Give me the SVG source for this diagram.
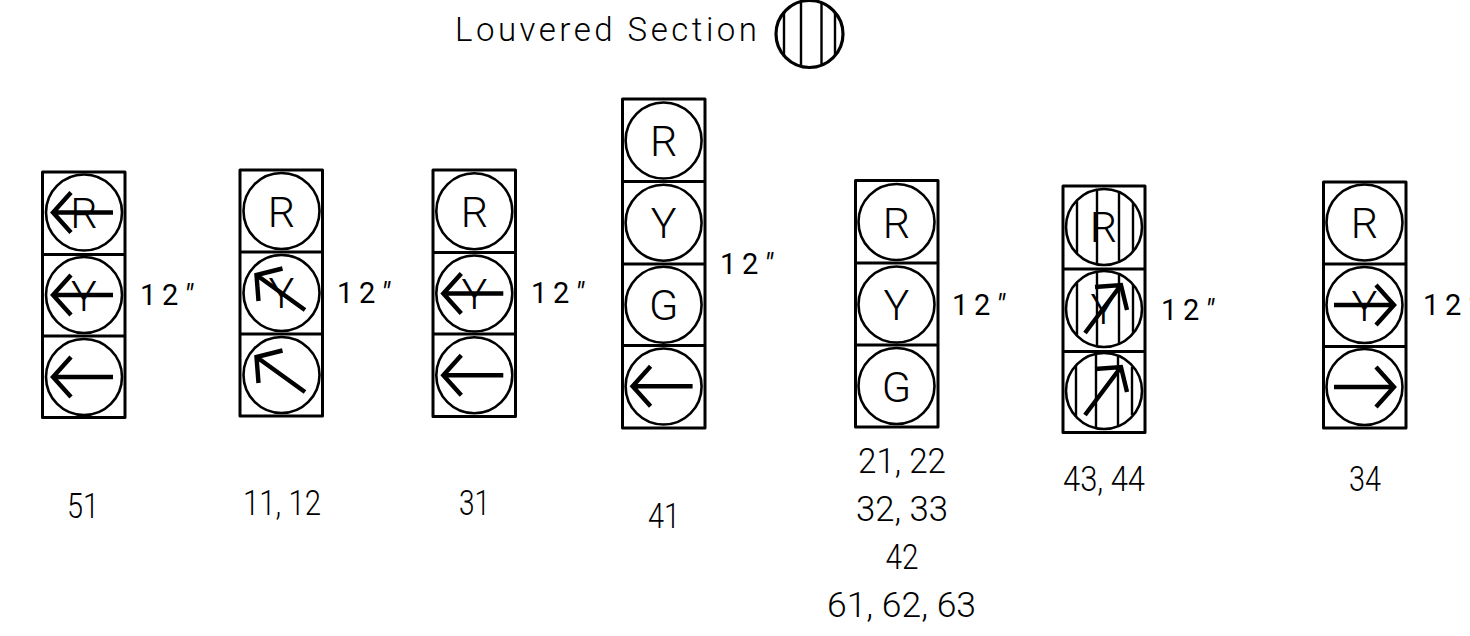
<svg xmlns="http://www.w3.org/2000/svg" xmlns:xlink="http://www.w3.org/1999/xlink" width="1470" height="636" viewBox="0 0 1470 636">
<style>
text{font-family:Roboto,"Liberation Sans",sans-serif;font-weight:300;fill:#000}
.box{fill:none;stroke:#000;stroke-width:3;stroke-linejoin:round}
.div{stroke:#000;stroke-width:3}
.lens{fill:none;stroke:#000;stroke-width:2.6}
.lv{stroke:#000;stroke-width:2.4}
.arr{fill:none;stroke:#000;stroke-width:4.4}
.let{font-size:43px;text-anchor:middle}
.dim{font-size:29px;font-weight:400}
.num{font-size:35px}
</style>
<defs>
<path id="al" class="arr" d="M29 0H-31M-13 -20L-31 0L-13 20"/>
<path id="ar" class="arr" d="M-30.500 0H29.500M11.500 -20L29.500 0L11.500 20"/>
<path id="aul" class="arr" d="M23.500 17L-25 -18M1 -24.500L-25 -18L-23 8"/>
<path id="aur" class="arr" d="M-19 24L17 -24M-9 -22L17 -24L23 1"/>
<path id="lv" class="lv" d="M-27 -26V26M-7 -37V37M15 -35V35M29 -24V24"/>
</defs>

<g id="legend">
<text x="455" y="41" font-size="33" textLength="302">Louvered Section</text>
<circle cx="809.500" cy="34" r="33.500" fill="none" stroke="#000" stroke-width="3.200"/>
<path class="lv" d="M784 11V57M801 1V67M821.500 2V66M835 12V56"/>
</g>

<g id="head-51">
<rect class="box" x="42.500" y="172" width="82.500" height="245.500"/>
<path class="div" d="M42.500 254.500H125M42.500 336H125"/>
<circle class="lens" cx="84" cy="212.500" r="38"/><circle class="lens" cx="84" cy="295" r="38"/><circle class="lens" cx="84" cy="377" r="38"/>
<text class="let" x="84" y="228">R</text><text class="let" x="84" y="310.500">Y</text>
<use xlink:href="#al" x="84" y="212.500"/><use xlink:href="#al" x="84" y="295"/><use xlink:href="#al" x="84" y="377"/>
<text class="dim" x="140" y="305" textLength="53">12<tspan font-style="italic">"</tspan></text>
<text class="num" x="67" y="518" textLength="32" lengthAdjust="spacingAndGlyphs">51</text>
</g>

<g id="head-11-12">
<rect class="box" x="240" y="170" width="82.500" height="246"/>
<path class="div" d="M240 252H322.500M240 334H322.500"/>
<circle class="lens" cx="281.500" cy="211" r="38"/><circle class="lens" cx="281.500" cy="293" r="38"/><circle class="lens" cx="281.500" cy="375" r="38"/>
<text class="let" x="281.500" y="226.500">R</text><text class="let" x="281.500" y="308">Y</text>
<use xlink:href="#aul" x="281.500" y="293"/><use xlink:href="#aul" x="281.500" y="375"/>
<text class="dim" x="337" y="303" textLength="53">12<tspan font-style="italic">"</tspan></text>
<text class="num" x="243" y="515" textLength="78" lengthAdjust="spacingAndGlyphs">11, 12</text>
</g>

<g id="head-31">
<rect class="box" x="433" y="170" width="82.500" height="246.500"/>
<path class="div" d="M433 252.500H515.500M433 334H515.500"/>
<circle class="lens" cx="474.300" cy="211.300" r="38"/><circle class="lens" cx="474.300" cy="293.500" r="38"/><circle class="lens" cx="474.300" cy="375.200" r="38"/>
<text class="let" x="474.300" y="227">R</text><text class="let" x="474.300" y="309">Y</text>
<use xlink:href="#al" x="474.300" y="293.500"/><use xlink:href="#al" x="474.300" y="375.200"/>
<text class="dim" x="531" y="303" textLength="53">12<tspan font-style="italic">"</tspan></text>
<text class="num" x="459" y="515" textLength="31" lengthAdjust="spacingAndGlyphs">31</text>
</g>

<g id="head-41">
<rect class="box" x="622.500" y="99" width="82.500" height="329"/>
<path class="div" d="M622.500 181.500H705M622.500 264H705M622.500 345.500H705"/>
<circle class="lens" cx="663.600" cy="140.500" r="38"/><circle class="lens" cx="663.600" cy="222.700" r="38"/><circle class="lens" cx="663.600" cy="304.700" r="38"/><circle class="lens" cx="663.600" cy="386.500" r="38"/>
<text class="let" x="663.600" y="155.500">R</text><text class="let" x="663.600" y="237.500">Y</text><text class="let" x="663.600" y="320">G</text>
<use xlink:href="#al" x="663.600" y="386.300"/>
<text class="dim" x="720" y="274" textLength="53">12<tspan font-style="italic">"</tspan></text>
<text class="num" x="648" y="528" textLength="32" lengthAdjust="spacingAndGlyphs">41</text>
</g>

<g id="head-21-22">
<rect class="box" x="855.500" y="180.500" width="82.500" height="246.500"/>
<path class="div" d="M855.500 263H938M855.500 345H938"/>
<circle class="lens" cx="896.500" cy="222" r="38"/><circle class="lens" cx="896.500" cy="304.500" r="38"/><circle class="lens" cx="896.500" cy="386" r="38"/>
<text class="let" x="896.500" y="237.500">R</text><text class="let" x="896.500" y="320">Y</text><text class="let" x="896.500" y="402">G</text>
<text class="dim" x="952" y="315" textLength="53">12<tspan font-style="italic">"</tspan></text>
<text class="num" x="858" y="473" textLength="88" lengthAdjust="spacingAndGlyphs">21, 22</text>
<text class="num" x="856" y="521" textLength="92" lengthAdjust="spacingAndGlyphs">32, 33</text>
<text class="num" x="885.500" y="569" textLength="33" lengthAdjust="spacingAndGlyphs">42</text>
<text class="num" x="827" y="617" textLength="149" lengthAdjust="spacingAndGlyphs">61, 62, 63</text>
</g>

<g id="head-43-44">
<rect class="box" x="1063" y="186" width="82" height="246.500"/>
<path class="div" d="M1063 269H1145M1063 351.500H1145"/>
<circle class="lens" cx="1104" cy="227" r="38"/><circle class="lens" cx="1104" cy="309" r="38"/><circle class="lens" cx="1104" cy="391" r="38"/>
<use xlink:href="#lv" x="1104" y="227"/><use xlink:href="#lv" x="1104" y="309"/><use xlink:href="#lv" x="1103" y="391"/>
<text class="let" x="1103.500" y="242">R</text><text class="let" x="1103.500" y="324">Y</text>
<use xlink:href="#aur" x="1104" y="309"/><use xlink:href="#aur" x="1104" y="391"/>
<text class="dim" x="1161" y="320" textLength="53">12<tspan font-style="italic">"</tspan></text>
<text class="num" x="1063" y="491" textLength="82" lengthAdjust="spacingAndGlyphs">43, 44</text>
</g>

<g id="head-34">
<rect class="box" x="1323.500" y="182" width="82.500" height="246"/>
<path class="div" d="M1323.500 264H1406M1323.500 346.500H1406"/>
<circle class="lens" cx="1364.500" cy="222.500" r="38"/><circle class="lens" cx="1364.500" cy="305" r="38"/><circle class="lens" cx="1364.500" cy="387" r="38"/>
<text class="let" x="1364.500" y="238">R</text><text class="let" x="1364.500" y="320.500">Y</text>
<use xlink:href="#ar" x="1364.500" y="305"/><use xlink:href="#ar" x="1364.500" y="387"/>
<text class="dim" x="1423" y="315" textLength="53">12<tspan font-style="italic">"</tspan></text>
<text class="num" x="1349" y="491" textLength="32" lengthAdjust="spacingAndGlyphs">34</text>
</g>

<g id="connectors"></g>
</svg>
